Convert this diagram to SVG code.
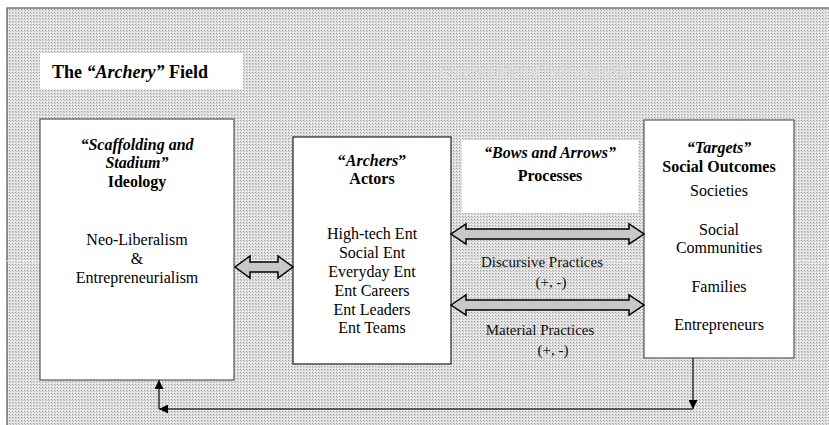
<svg xmlns="http://www.w3.org/2000/svg" width="829" height="425" viewBox="0 0 829 425">
  <defs>
    <pattern id="dots" width="3" height="3" patternUnits="userSpaceOnUse">
      <rect width="3" height="3" fill="#e2e2e2"/>
      <rect x="0" y="0" width="1" height="1" fill="#9c9c9c"/>
      <rect x="1" y="1" width="1" height="1" fill="#bcbcbc"/>
      <rect x="2" y="2" width="1" height="1" fill="#f4f4f4"/>
    </pattern>
    <marker id="tri" viewBox="0 0 10 10" refX="10" refY="5" markerWidth="9" markerHeight="9" markerUnits="userSpaceOnUse" orient="auto">
      <path d="M0,0 L10,5 L0,10 z" fill="#000"/>
    </marker>
    <style>
      .box { fill: #fff; stroke: #555; stroke-width: 1.2; }
      .t { font-family: "Liberation Serif", "Times New Roman", serif; font-size: 16px; fill: #000; text-anchor: middle; }
      .b { font-weight: bold; }
      .i { font-style: italic; }
      .lab { font-family: "Liberation Serif", "Times New Roman", serif; font-size: 15px; fill: #111; text-anchor: middle; }
      .blk { fill: #c8c8c8; stroke: #000; stroke-width: 1.5; }
      .conn { fill: none; stroke: #333; stroke-width: 1.5; }
    </style>
  </defs>

  <rect width="829" height="425" fill="#fff"/>
  <rect x="7" y="8" width="830" height="430" fill="url(#dots)" stroke="#555" stroke-width="1.2"/>
  <line x1="7" y1="261" x2="829" y2="261" stroke="#fff" stroke-width="1" stroke-dasharray="3,2"/>

  <text x="535" y="77" font-family="Liberation Sans, Arial, sans-serif" font-size="15" fill="#f2f2f2" stroke="#c4c4c4" stroke-width="0.4" text-anchor="middle">Conversational Text Analysis</text>

  <g id="title">
    <rect x="40" y="53" width="203" height="36" fill="#fff"/>
    <text x="52" y="78" class="t b" style="font-size:18px;text-anchor:start">The <tspan class="i">“Archery”</tspan> Field</text>
  </g>

  <g id="ideology">
    <rect x="40" y="119" width="194" height="261" class="box"/>
    <text class="t b i" x="137" y="150">“Scaffolding and</text>
    <text class="t b i" x="137" y="168">Stadium”</text>
    <text class="t b" x="137" y="187">Ideology</text>
    <text class="t" x="137" y="245">Neo-Liberalism</text>
    <text class="t" x="137" y="264">&amp;</text>
    <text class="t" x="137" y="283">Entrepreneurialism</text>
  </g>

  <g id="actors">
    <rect x="293" y="137" width="158" height="227" class="box" style="stroke:#222"/>
    <text class="t b" x="372" y="166">“<tspan class="i">Archers</tspan>”</text>
    <text class="t b" x="372" y="184">Actors</text>
    <text class="t" x="372" y="239">High-tech Ent</text>
    <text class="t" x="372" y="258">Social Ent</text>
    <text class="t" x="372" y="277">Everyday Ent</text>
    <text class="t" x="372" y="296">Ent Careers</text>
    <text class="t" x="372" y="315">Ent Leaders</text>
    <text class="t" x="372" y="333">Ent Teams</text>
  </g>

  <g id="processes">
    <rect x="462" y="140" width="176" height="73" fill="#fff"/>
    <text class="t b i" x="550" y="158">“Bows and Arrows”</text>
    <text class="t b" x="550" y="181">Processes</text>
  </g>

  <g id="outcomes">
    <rect x="644" y="120" width="150" height="238" class="box"/>
    <text class="t b i" x="719" y="153">“Targets”</text>
    <text class="t b" x="719" y="172">Social Outcomes</text>
    <text class="t" x="719" y="196">Societies</text>
    <text class="t" x="719" y="235">Social</text>
    <text class="t" x="719" y="253">Communities</text>
    <text class="t" x="719" y="292">Families</text>
    <text class="t" x="719" y="330">Entrepreneurs</text>
  </g>

  <g id="connectors">
    <path class="blk" d="M235,267 L250,256 L250,262 L278,262 L278,256 L293,267 L278,278 L278,272 L250,272 L250,278 Z"/>
    <path class="blk" d="M451,234 L466,224 L466,229 L629,229 L629,224 L644,234 L629,244 L629,239 L466,239 L466,244 Z"/>
    <path class="blk" d="M451,305 L466,295 L466,300 L629,300 L629,295 L644,305 L629,315 L629,310 L466,310 L466,315 Z"/>
    <text class="lab" x="542" y="267">Discursive Practices</text>
    <text class="lab" x="551" y="287">(+, -)</text>
    <text class="lab" x="540" y="335">Material Practices</text>
    <text class="lab" x="553" y="355">(+, -)</text>
    <line class="conn" x1="693" y1="358" x2="693" y2="409" marker-end="url(#tri)"/>
    <line class="conn" x1="693" y1="409" x2="159" y2="409" marker-end="url(#tri)"/>
    <line class="conn" x1="159" y1="409" x2="159" y2="380" marker-end="url(#tri)"/>
  </g>
</svg>
